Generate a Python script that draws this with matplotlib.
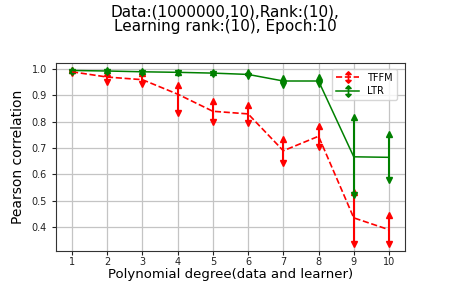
import matplotlib
matplotlib.use("Agg")
import matplotlib.pyplot as plt
from matplotlib.path import Path
from matplotlib.lines import Line2D
import numpy as np

degrees = [1, 2, 3, 4, 5, 6, 7, 8, 9, 10]
tffm_mean = [0.99, 0.97, 0.96, 0.905, 0.84, 0.83, 0.69, 0.745, 0.435, 0.39]
tffm_low = [0.985, 0.95, 0.945, 0.835, 0.80, 0.795, 0.645, 0.705, 0.335, 0.335]
tffm_high = [0.995, 0.985, 0.985, 0.94, 0.88, 0.865, 0.735, 0.785, 0.535, 0.445]
ltr_mean = [0.995, 0.993, 0.99, 0.988, 0.985, 0.98, 0.955, 0.955, 0.667, 0.665]
ltr_low = [0.99, 0.99, 0.987, 0.985, 0.982, 0.975, 0.94, 0.945, 0.52, 0.58]
ltr_high = [0.998, 0.997, 0.994, 0.991, 0.989, 0.99, 0.965, 0.97, 0.82, 0.755]

fig = plt.figure(figsize=(4.5, 2.83), dpi=100)
ax = fig.add_axes([0.1244, 0.113, 0.7756, 0.664])


def draw(mean, low, high, color, ls, lw):
    m = np.array(mean)
    err = [m - np.array(low), np.array(high) - m]
    ax.errorbar(degrees, mean, yerr=err, color=color, ls=ls, lw=lw,
                elinewidth=1.5, capsize=0)
    ax.plot(degrees, high, ls='none', marker='^', color=color, ms=5)
    ax.plot(degrees, low, ls='none', marker='v', color=color, ms=5)


draw(tffm_mean, tffm_low, tffm_high, 'red', '--', 1.2)
draw(ltr_mean, ltr_low, ltr_high, 'green', '-', 1.1)

# legend marker: vertical bar with arrowheads at both ends
verts = [(0, -1), (0, 1),
         (-0.45, 0.55), (0, 1), (0.45, 0.55), (-0.45, 0.55),
         (-0.45, -0.55), (0, -1), (0.45, -0.55), (-0.45, -0.55)]
codes = [Path.MOVETO, Path.LINETO,
         Path.MOVETO, Path.LINETO, Path.LINETO, Path.CLOSEPOLY,
         Path.MOVETO, Path.LINETO, Path.LINETO, Path.CLOSEPOLY]
arrow_marker = Path(verts, codes)
h1 = Line2D([], [], color='red', ls='--', lw=1.2, marker=arrow_marker, ms=8,
            markeredgewidth=1.2)
h2 = Line2D([], [], color='green', ls='-', lw=1.1, marker=arrow_marker, ms=8,
            markeredgewidth=1.2)

ax.set_xlim(0.545, 10.455)
ax.set_ylim(0.309, 1.023)
ax.set_xticks(degrees)
ax.set_yticks([0.4, 0.5, 0.6, 0.7, 0.8, 0.9, 1.0])
ax.set_yticklabels(['0.4', '0.5', '0.6', '0.7', '0.8', '0.9', '1.0'])
ax.tick_params(labelsize=7, length=3, colors='#222222')
ax.tick_params(axis='x', pad=1.5)
for s in ax.spines.values():
    s.set_color('#333333')
ax.grid(True, color='#c4c4c4', lw=0.9)
ax.set_axisbelow(True)
ax.set_xlabel('Polynomial degree(data and learner)', fontsize=9.5)
ax.xaxis.set_label_coords(0.5, -0.093)
ax.set_ylabel('Pearson correlation', fontsize=10, labelpad=5)
fig.suptitle('Data:(1000000,10),Rank:(10),\nLearning rank:(10), Epoch:10',
             fontsize=11, y=0.985, linespacing=1.0)
ax.legend([h1, h2], ['TFFM', 'LTR'], loc='upper right', fontsize=7,
          bbox_to_anchor=(0.99, 0.995), handlelength=2.4, numpoints=1,
          borderpad=0.4, labelspacing=0.35)
fig.savefig('out.png', dpi=100)
